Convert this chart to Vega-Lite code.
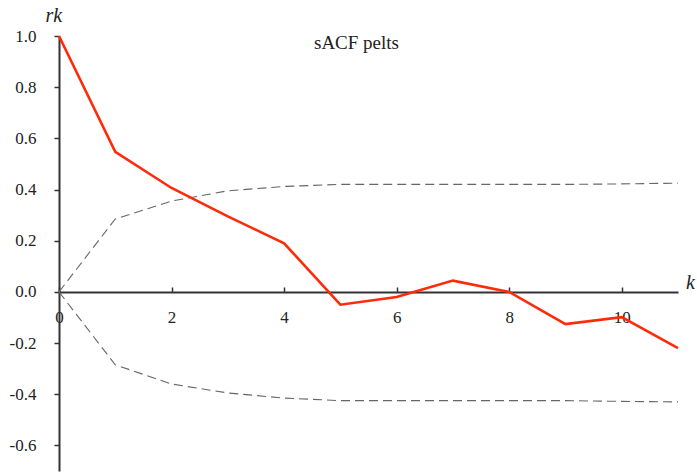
{
  "$schema": "https://vega.github.io/schema/vega-lite/v6.json",
  "width": 619,
  "height": 435,
  "autosize": "none",
  "padding": {"left": 59, "top": 36, "right": 19, "bottom": 3},
  "background": "white",
  "title": {"text": "sACF pelts", "font": "Liberation Serif, serif", "fontSize": 19, "fontWeight": "normal", "color": "#222", "anchor": "middle", "dx": -12, "dy": 52},
  "config": {
    "view": {"stroke": null},
    "font": "Liberation Serif, serif",
    "style": {
      "guide-label": {"font": "Liberation Serif, serif", "fontSize": 17, "fill": "#222"},
      "guide-title": {"font": "Liberation Serif, serif", "fontSize": 20, "fill": "#222", "fontStyle": "italic", "fontWeight": "normal"}
    },
    "axis": {"labelFont": "Liberation Serif, serif", "labelFontSize": 17, "labelColor": "#222", "grid": false, "domainColor": "#333", "domainWidth": 2, "tickColor": "#333", "tickWidth": 1.5, "labelFlush": false}
  },
  "datasets": {
    "acf": [
      {"k": 0, "r": 1.0}, {"k": 1, "r": 0.547}, {"k": 2, "r": 0.406}, {"k": 3, "r": 0.295},
      {"k": 4, "r": 0.19}, {"k": 5, "r": -0.05}, {"k": 6, "r": -0.02}, {"k": 7, "r": 0.044},
      {"k": 8, "r": 0.0}, {"k": 9, "r": -0.126}, {"k": 10, "r": -0.099}, {"k": 11, "r": -0.22}
    ],
    "bounds": [
      {"k": 0, "b": 0, "side": "upper"}, {"k": 1, "b": 0.285, "side": "upper"}, {"k": 2, "b": 0.355, "side": "upper"},
      {"k": 3, "b": 0.395, "side": "upper"}, {"k": 4, "b": 0.412, "side": "upper"}, {"k": 5, "b": 0.42, "side": "upper"},
      {"k": 6, "b": 0.42, "side": "upper"}, {"k": 7, "b": 0.42, "side": "upper"}, {"k": 8, "b": 0.42, "side": "upper"},
      {"k": 9, "b": 0.42, "side": "upper"}, {"k": 10, "b": 0.422, "side": "upper"}, {"k": 11, "b": 0.425, "side": "upper"},
      {"k": 0, "b": 0, "side": "lower"}, {"k": 1, "b": -0.285, "side": "lower"}, {"k": 2, "b": -0.36, "side": "lower"},
      {"k": 3, "b": -0.395, "side": "lower"}, {"k": 4, "b": -0.415, "side": "lower"}, {"k": 5, "b": -0.425, "side": "lower"},
      {"k": 6, "b": -0.425, "side": "lower"}, {"k": 7, "b": -0.425, "side": "lower"}, {"k": 8, "b": -0.425, "side": "lower"},
      {"k": 9, "b": -0.425, "side": "lower"}, {"k": 10, "b": -0.428, "side": "lower"}, {"k": 11, "b": -0.43, "side": "lower"}
    ]
  },
  "layer": [
    {
      "data": {"name": "bounds"},
      "mark": {"type": "line", "color": "#666", "strokeWidth": 1.1, "strokeDash": [9, 5]},
      "encoding": {
        "x": {"field": "k", "type": "quantitative", "scale": {"domain": [0, 11], "nice": false},
          "axis": {"values": [0, 2, 4, 6, 8, 10], "format": "d", "offset": -179, "tickSize": -5, "labelPadding": 22,
            "title": "k", "titleX": 631, "titleY": -10, "titleAlign": "center", "titleBaseline": "middle"}},
        "y": {"field": "b", "type": "quantitative", "scale": {"domain": [-0.7, 1.0], "nice": false, "zero": false},
          "axis": {"values": [-0.6, -0.4, -0.2, 0, 0.2, 0.4, 0.6, 0.8, 1.0], "labelExpr": "replace(format(datum.value, '.1f'), '−', '-')", "tickSize": 5, "labelPadding": 18,
            "title": "rk", "titleAngle": 0, "titleX": -14, "titleY": -21, "titleAlign": "left", "titleBaseline": "middle"}},
        "detail": {"field": "side"}
      }
    },
    {
      "data": {"name": "acf"},
      "mark": {"type": "line", "color": "#ff2a0a", "strokeWidth": 2.6},
      "encoding": {
        "x": {"field": "k", "type": "quantitative"},
        "y": {"field": "r", "type": "quantitative"}
      }
    }
  ]
}
